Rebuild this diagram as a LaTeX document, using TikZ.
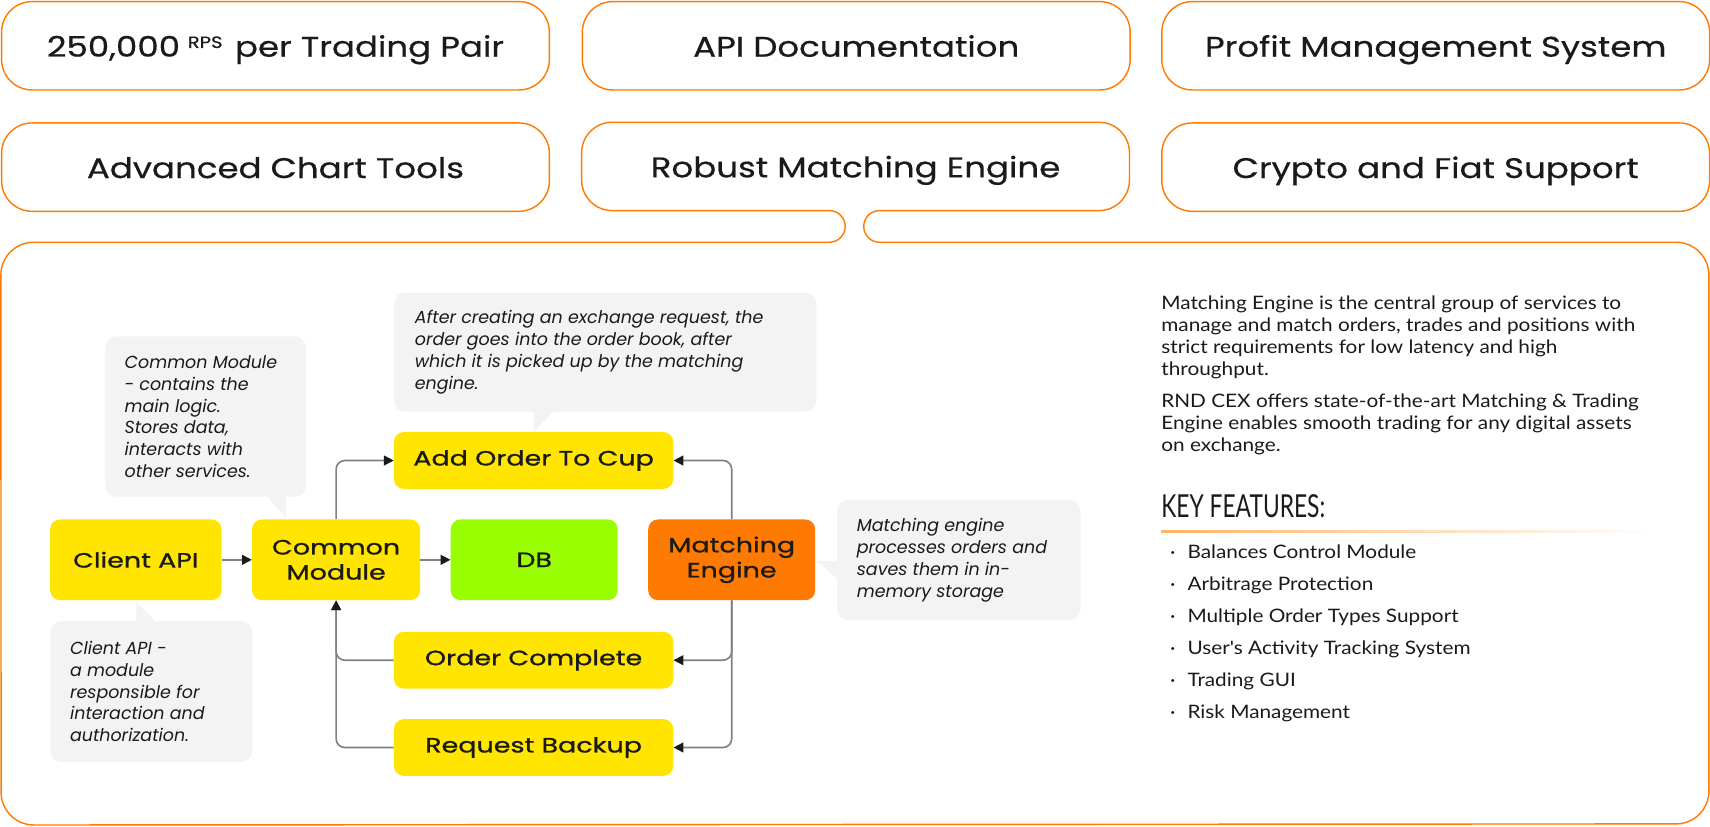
\documentclass[tikz,border=0pt]{standalone}
\usepackage{fontspec}
\setmainfont{Poppins}
\newfontfamily\cardfont[FakeStretch=1.2,FakeBold=0.5]{Poppins}
\newfontfamily\medfont[FakeStretch=1.3,FakeBold=1]{Poppins}
\newfontfamily\bodyfont[FakeStretch=1.12]{Lato}
\newfontfamily\condfont[FakeStretch=0.72]{Lato}
\usetikzlibrary{arrows.meta}
\definecolor{ora}{HTML}{FF7A00}
\definecolor{yel}{HTML}{FFE500}
\definecolor{lime}{HTML}{99FF00}
\definecolor{notegray}{HTML}{F3F3F3}
\definecolor{lgray}{HTML}{808080}
\definecolor{ink}{HTML}{1A1A1A}
\definecolor{fadeora}{HTML}{FFB468}
\tikzset{
  card/.style={draw=ora, line width=1.3pt, rounded corners=28pt, minimum width=502pt,
    minimum height=81pt, anchor=north west, text=ink, text height=20pt, text depth=0pt,
    font=\cardfont\fontsize{26}{30}\selectfont},
  blk/.style={rounded corners=9pt, minimum width=154pt, minimum height=74pt, align=center,
    text=ink, inner sep=0pt, font=\medfont\fontsize{19}{23}\selectfont},
  yelblk/.style={blk, fill=yel},
  widebox/.style={yelblk, minimum width=256pt, minimum height=52pt},
  notebg/.style={fill=notegray, rounded corners=10pt, anchor=north west, inner sep=0pt},
  notetxt/.style={align=left, anchor=west, inner sep=0pt, text=ink,
    font=\itshape\fontsize{16}{20}\selectfont},
  conn/.style={draw=lgray, line width=1.5pt, rounded corners=8pt,
    -{Triangle[length=9pt,width=9pt,color=ink]}},
  bodytxt/.style={align=left, anchor=north west, inner sep=0pt, text=ink,
    font=\bodyfont\fontsize{17}{20}\selectfont}
}
\begin{document}
\begin{tikzpicture}[x=1pt,y=-1pt]
\useasboundingbox (0,0) rectangle (1567,757);

% top cards
\node[card] (c1) at (0.8,0.8) {250,000\hspace{7pt}\raisebox{8pt}{\fontsize{15}{15}\selectfont RPS}\hspace{3pt} per Trading Pair};
\node[card] (c2) at (533,0.8) {API Documentation};
\node[card] (c3) at (1064,0.8) {Profit Management System};
\node[card] (c4) at (0.8,112) {Advanced Chart Tools};
\node[card] (c6) at (1064,112) {Crypto and Fiat Support};
\node[text=ink, text height=20pt, text depth=0pt, font=\cardfont\fontsize{26}{30}\selectfont] (c5) at (784,152.5) {Robust Matching Engine};

% merged outline of the middle card and the main panel
\draw[ora, line width=1.3pt]
  (760,222) arc[start angle=90,end angle=-90,radius=14.5]
  -- (561,193) arc[start angle=90,end angle=180,radius=28]
  -- (533,140) arc[start angle=180,end angle=270,radius=28]
  -- (1007,112) arc[start angle=270,end angle=360,radius=28]
  -- (1035,165) arc[start angle=0,end angle=90,radius=28]
  -- (806,193) arc[start angle=-90,end angle=-270,radius=14.5]
  -- (1536,222) arc[start angle=-90,end angle=0,radius=30]
  -- (1566,725) arc[start angle=0,end angle=90,radius=30]
  -- (31,756) arc[start angle=90,end angle=180,radius=30]
  -- (0.8,252) arc[start angle=180,end angle=270,radius=30]
  -- cycle;

% callouts
\node[notebg, minimum width=184pt, minimum height=147pt] (n1) at (96,308) {};
\fill[notegray] (244,454) -- (262,454) -- (262,475) -- cycle;
\node[notetxt] (t1) at ([xshift=18pt]n1.west) {Common Module\\- contains the\\main logic.\\Stores data,\\interacts with\\other services.};

\node[notebg, minimum width=387pt, minimum height=109pt] (n2) at (361,268) {};
\fill[notegray] (489,376) -- (489,396) -- (508,376) -- cycle;
\node[notetxt] (t2) at ([xshift=19pt]n2.west) {After creating an exchange request, the\\order goes into the order book, after\\which it is picked up by the matching\\engine.};

\node[notebg, minimum width=223pt, minimum height=110pt] (n3) at (767,458) {};
\fill[notegray] (749,514) -- (768,514) -- (768,531) -- cycle;
\node[notetxt] (t3) at ([xshift=18pt]n3.west) {Matching engine\\processes orders and\\saves them in in-\\memory storage};

\node[notebg, minimum width=185pt, minimum height=129pt] (n4) at (46,569) {};
\fill[notegray] (125,552) -- (125,570) -- (143,570) -- cycle;
\node[notetxt] (t4) at ([xshift=18pt]n4.west) {Client API -\\a module\\responsible for\\interaction and\\authorization.};

% blocks
\node[yelblk, minimum width=157pt] (capi) at (124.5,513) {Client API};
\node[yelblk] (cm) at (308,513) {Common\\Module};
\node[blk, fill=lime, minimum width=153pt] (db) at (489.5,513) {DB};
\node[blk, fill=ora, minimum width=153pt] (me) at (670.5,513) {Matching\\Engine};
\node[widebox] (add) at (489,422) {Add Order To Cup};
\node[widebox] (oc) at (489,605) {Order Complete};
\node[widebox] (rb) at (489,685) {Request Backup};

% connectors
\draw[conn] (capi.east) -- (cm.west);
\draw[conn] (cm.east) -- (db.west);
\draw[conn] (cm.north) |- (add.west);
\draw[conn] (me.north) |- (add.east);
\draw[conn] (me.south) |- (oc.east);
\draw[conn] (me.south) |- (rb.east);
\draw[conn] (oc.west) -| (cm.south);
\draw[conn] (rb.west) -| (cm.south);

% right text
\node[bodytxt] (p1) at (1064,271) {Matching Engine is the central group of services to\\manage and match orders, trades and positions with\\strict requirements for low latency and high\\throughput.};
\node[bodytxt] (p2) at (1064,361) {RND CEX offers state-of-the-art Matching \& Trading\\Engine enables smooth trading for any digital assets\\on exchange.};
\node[anchor=base west, inner sep=0pt, text=ink, font=\condfont\fontsize{29}{32}\selectfont] (kf) at (1064,474) {KEY FEATURES:};
\shade[left color=fadeora, right color=white] (1064,486.3) rectangle (1516,488.3);
\node[anchor=north west, inner sep=0pt, align=left, text=ink,
  font=\bodyfont\fontsize{17}{29.4}\selectfont] (feat) at (1072,499)
  {\makebox[16pt][l]{·}Balances Control Module\\
   \makebox[16pt][l]{·}Arbitrage Protection\\
   \makebox[16pt][l]{·}Multiple Order Types Support\\
   \makebox[16pt][l]{·}User's Activity Tracking System\\
   \makebox[16pt][l]{·}Trading GUI\\
   \makebox[16pt][l]{·}Risk Management};
\end{tikzpicture}
\end{document}
